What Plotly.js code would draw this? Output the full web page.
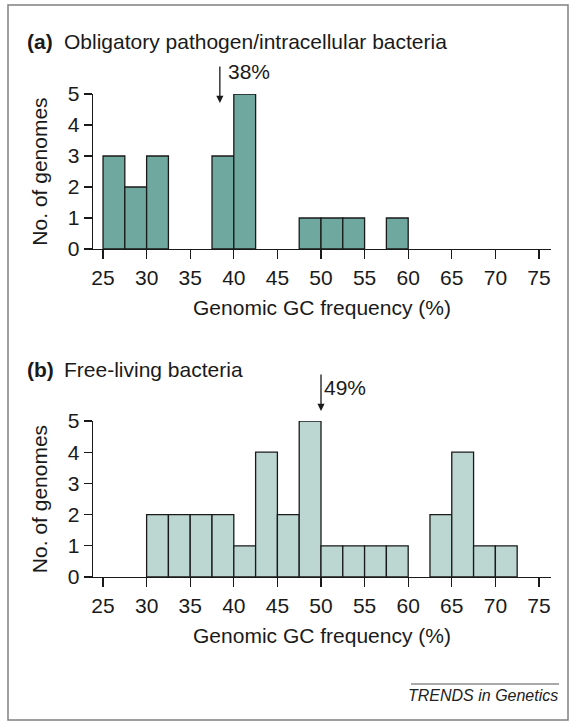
<!DOCTYPE html>
<html>
<head>
<meta charset="utf-8">
<script src="https://cdn.plot.ly/plotly-3.0.1.min.js"></script>
<style>html,body{margin:0;padding:0;background:#fff;}</style>
</head>
<body>
<div id="chart" style="width:574px;height:724px;"></div>
<script>
// Bin left edges (GC %) and counts
const binWidth = 2.5;
const binStartsA = [25, 27.5, 30, 37.5, 40, 47.5, 50, 52.5, 57.5];
const countsA    = [3, 2, 3, 3, 5, 1, 1, 1, 1];
const binStartsB = [30, 32.5, 35, 37.5, 40, 42.5, 45, 47.5, 50, 52.5, 55, 57.5, 62.5, 65, 67.5, 70];
const countsB    = [2, 2, 2, 2, 1, 4, 2, 5, 1, 1, 1, 1, 2, 4, 1, 1];
const xTicks = [25, 30, 35, 40, 45, 50, 55, 60, 65, 70, 75];
const yTicks = [0, 1, 2, 3, 4, 5];
const panelTitles = ["Obligatory pathogen/intracellular bacteria", "Free-living bacteria"];
const panelTags = ["(a)", "(b)"];
const medianLabels = ["38%", "49%"];
const medianArrowX = [38.4, 50];
const xTitle = "Genomic GC frequency (%)";
const yTitle = "No. of genomes";

const W = 574, H = 724;
const px = v => v / W;
const py = v => 1 - v / H;
const FONT = '"Liberation Sans", Arial, Helvetica, sans-serif';
const FS = 21;

function bars(starts, counts, color, xa, ya) {
  return {
    type: 'bar', x: starts, y: counts,
    width: starts.map(() => binWidth), offset: 0,
    marker: {color: color, line: {color: '#1a1a1a', width: 1.3}},
    xaxis: xa, yaxis: ya, hoverinfo: 'x+y', showlegend: false
  };
}

const xCommon = {
  range: [23.85, 76.38], tickvals: xTicks, ticks: 'outside', ticklen: 9, tickwidth: 1.3,
  tickcolor: '#1a1a1a', showline: true, linecolor: '#1a1a1a', linewidth: 1.3,
  showgrid: false, zeroline: false, tickfont: {size: FS, color: '#1a1a1a'},
  title: {text: xTitle, font: {size: FS, color: '#1a1a1a'}, standoff: 12}
};
const yCommon = {
  range: [0, 5], tickvals: yTicks, ticks: 'outside', ticklen: 8, tickwidth: 1.3,
  tickcolor: '#1a1a1a', showline: true, linecolor: '#1a1a1a', linewidth: 1.3,
  showgrid: false, zeroline: false, tickfont: {size: FS, color: '#1a1a1a'},
  title: {text: yTitle, font: {size: FS, color: '#1a1a1a'}, standoff: 14}
};

const data = [
  bars(binStartsA, countsA, '#6fa89e', 'x', 'y'),
  bars(binStartsB, countsB, '#bcd6d1', 'x2', 'y2')
];

const layout = {
  width: W, height: H,
  margin: {l: 0, r: 0, t: 0, b: 0},
  paper_bgcolor: '#ffffff', plot_bgcolor: 'rgba(0,0,0,0)',
  font: {family: FONT, color: '#1a1a1a'},
  bargap: 0,
  xaxis: Object.assign({}, xCommon, {domain: [px(93), px(551)], anchor: 'y'}),
  yaxis: Object.assign({}, yCommon, {domain: [py(249), py(94)], anchor: 'x'}),
  xaxis2: Object.assign({}, xCommon, {domain: [px(93), px(551)], anchor: 'y2'}),
  yaxis2: Object.assign({}, yCommon, {domain: [py(577), py(421)], anchor: 'x2'}),
  annotations: [
    {xref: 'paper', yref: 'paper', x: px(25), y: py(41), xanchor: 'left', yanchor: 'middle',
     text: '<b>' + panelTags[0] + '</b>', showarrow: false, font: {size: FS}},
    {xref: 'paper', yref: 'paper', x: px(62), y: py(41), xanchor: 'left', yanchor: 'middle',
     text: panelTitles[0], showarrow: false, font: {size: FS}},
    {xref: 'paper', yref: 'paper', x: px(25), y: py(369), xanchor: 'left', yanchor: 'middle',
     text: '<b>' + panelTags[1] + '</b>', showarrow: false, font: {size: FS}},
    {xref: 'paper', yref: 'paper', x: px(62), y: py(369), xanchor: 'left', yanchor: 'middle',
     text: panelTitles[1], showarrow: false, font: {size: FS}},
    // median arrows
    {xref: 'x', yref: 'paper', x: medianArrowX[0], y: py(103), ax: 0, ay: -38, text: '',
     showarrow: true, arrowhead: 2, arrowsize: 1.1, arrowwidth: 1.3, arrowcolor: '#1a1a1a'},
    {xref: 'x', yref: 'paper', x: medianArrowX[0], y: py(72), xanchor: 'left', yanchor: 'middle',
     xshift: 6, text: medianLabels[0], showarrow: false, font: {size: FS}},
    {xref: 'x2', yref: 'paper', x: medianArrowX[1], y: py(411), ax: 0, ay: -38, text: '',
     showarrow: true, arrowhead: 2, arrowsize: 1.1, arrowwidth: 1.3, arrowcolor: '#1a1a1a'},
    {xref: 'x2', yref: 'paper', x: medianArrowX[1], y: py(387), xanchor: 'left', yanchor: 'middle',
     xshift: 1, text: medianLabels[1], showarrow: false, font: {size: FS}},
    // footer
    {xref: 'paper', yref: 'paper', x: px(560), y: py(695), xanchor: 'right', yanchor: 'middle',
     text: '<i>TRENDS in Genetics</i>', showarrow: false, font: {size: 16, color: '#222'}}
  ],
  shapes: [
    {type: 'rect', xref: 'paper', yref: 'paper', x0: px(8), x1: px(568), y0: py(720), y1: py(5),
     line: {color: '#808080', width: 1.5}, fillcolor: 'rgba(0,0,0,0)', layer: 'below'},
    {type: 'line', xref: 'paper', yref: 'paper', x0: px(411), x1: px(559), y0: py(684), y1: py(684),
     line: {color: '#555', width: 1.2}}
  ]
};

Plotly.newPlot('chart', data, layout, {displayModeBar: false, staticPlot: true});
</script>
</body>
</html>
